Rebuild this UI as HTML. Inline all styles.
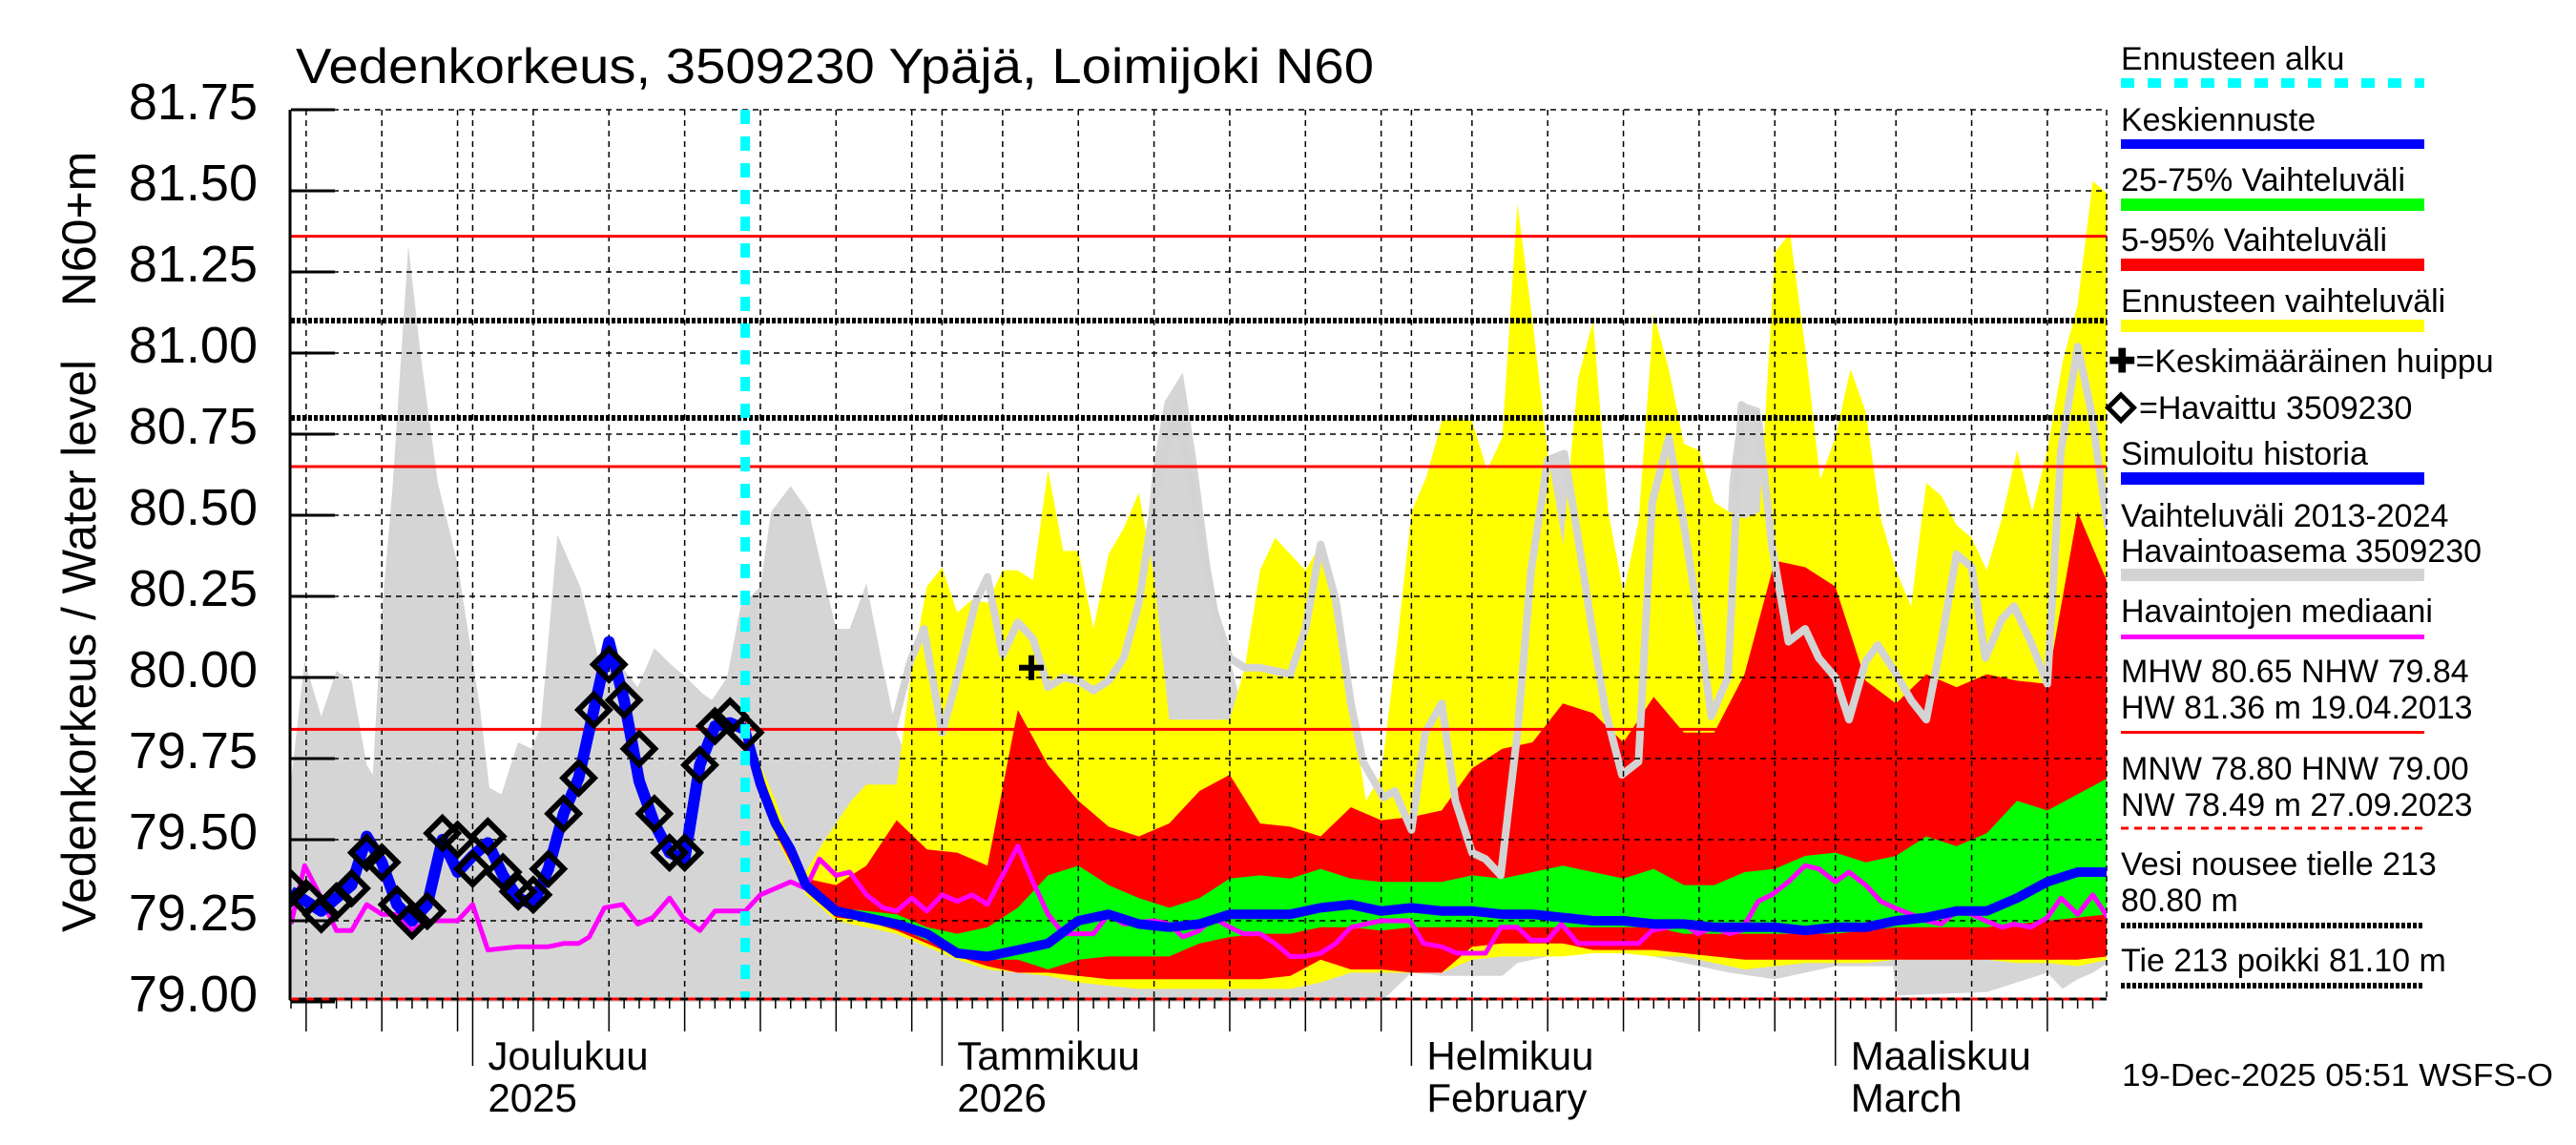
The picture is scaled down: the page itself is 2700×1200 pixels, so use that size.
<!DOCTYPE html>
<html><head><meta charset="utf-8"><style>
html,body{margin:0;padding:0;background:#fff;}
svg{display:block;font-family:"Liberation Sans",Arial,sans-serif;}
</style></head><body>
<svg id="chart" width="2700" height="1200" viewBox="0 0 2700 1200" xmlns="http://www.w3.org/2000/svg">
<rect x="0" y="0" width="2700" height="1200" fill="#fff"/>
<g id="layer-bands"></g>
<g id="layer-grid"></g>
<g id="layer-lines"></g>
<g id="layer-axes"></g>
<text x="310" y="87" font-size="52" textLength="1130" lengthAdjust="spacingAndGlyphs">Vedenkorkeus, 3509230 Ypäjä, Loimijoki N60</text>
<text transform="translate(100,240) rotate(-90)" font-size="50" text-anchor="middle">N60+m</text>
<text transform="translate(100,677) rotate(-90)" font-size="50" text-anchor="middle" textLength="600" lengthAdjust="spacingAndGlyphs">Vedenkorkeus / Water level</text>
<g id="legend" font-size="34" style="white-space:pre">
<text x="2223" y="73">Ennusteen alku</text>
<line x1="2223" y1="87" x2="2541" y2="87" stroke="#00ffff" stroke-width="10" stroke-dasharray="14,14"/>
<text x="2223" y="137">Keskiennuste</text>
<rect x="2223" y="146" width="318" height="10" fill="#0000ff"/>
<text x="2223" y="200">25-75% Vaihteluväli</text>
<rect x="2223" y="208" width="318" height="13" fill="#00ff00"/>
<text x="2223" y="263">5-95% Vaihteluväli</text>
<rect x="2223" y="271" width="318" height="13" fill="#ff0000"/>
<text x="2223" y="327">Ennusteen vaihteluväli</text>
<rect x="2223" y="335" width="318" height="13" fill="#ffff00"/>
<text x="2210" y="390"><tspan font-weight="bold">✚</tspan>=Keskimääräinen huippu</text>
<rect x="2213" y="418" width="19" height="19" fill="none" stroke="#000" stroke-width="5" transform="rotate(45 2223 428)"/>
<text x="2242" y="439">=Havaittu 3509230</text>
<text x="2223" y="487">Simuloitu historia</text>
<rect x="2223" y="495" width="318" height="13" fill="#0000ff"/>
<text x="2223" y="552">Vaihteluväli 2013-2024</text>
<text x="2223" y="589">Havaintoasema 3509230</text>
<rect x="2223" y="596" width="318" height="13" fill="#d3d3d3"/>
<text x="2223" y="652">Havaintojen mediaani</text>
<rect x="2223" y="665" width="318" height="5" fill="#ff00ff"/>
<text x="2223" y="715">MHW  80.65 NHW  79.84</text>
<text x="2223" y="753">HW  81.36 m 19.04.2013</text>
<rect x="2223" y="766" width="318" height="3" fill="#ff0000"/>
<text x="2223" y="817">MNW  78.80 HNW  79.00</text>
<text x="2223" y="855">NW  78.49 m 27.09.2023</text>
<line x1="2223" y1="868" x2="2541" y2="868" stroke="#ff0000" stroke-width="3" stroke-dasharray="8,6"/>
<text x="2223" y="917">Vesi nousee tielle 213</text>
<text x="2223" y="955">80.80 m</text>
<line x1="2223" y1="970" x2="2541" y2="970" stroke="#000" stroke-width="6" stroke-dasharray="4,2"/>
<text x="2223" y="1018">Tie 213 poikki 81.10 m</text>
<line x1="2223" y1="1033" x2="2541" y2="1033" stroke="#000" stroke-width="6" stroke-dasharray="4,2"/>
</g>
<text x="2224" y="1138" font-size="33" textLength="452" lengthAdjust="spacingAndGlyphs">19-Dec-2025 05:51 WSFS-O</text>
</svg>
<script>
// ---- data (day 0 = 19 Nov 2025) ----
const obsValues = [79.35,79.32,79.27,79.31,79.35,79.46,79.43,79.30,79.25,79.28,79.52,79.50,79.41,79.51,79.40,79.34,79.33,79.41,79.58,79.69,79.90,80.04,79.93,79.78,79.58,79.46,79.46,79.73,79.85,79.88,79.83];
const simValues = [79.34,79.31,79.28,79.32,79.36,79.51,79.43,79.30,79.25,79.30,79.50,79.40,79.45,79.49,79.39,79.32,79.30,79.41,79.58,79.69,79.90,80.11,79.93,79.68,79.55,79.46,79.44,79.73,79.85,79.86,79.84];
const bandDays = [30,31,32,33,34,36,38,40,42,44,46,48,50,52,54,56,58,60,62,64,66,68,70,72,74,76,78,80,82,84,86,88,90,92,94,96,98,100,102,104,106,108,110,112,114,116,118,120];
const medianValues = [79.84,79.67,79.55,79.47,79.36,79.28,79.26,79.24,79.21,79.15,79.14,79.16,79.18,79.25,79.27,79.24,79.23,79.24,79.27,79.27,79.27,79.29,79.30,79.28,79.29,79.28,79.28,79.27,79.27,79.26,79.25,79.25,79.24,79.24,79.23,79.23,79.23,79.22,79.23,79.23,79.25,79.26,79.28,79.28,79.32,79.37,79.40,79.40];
const p75Values = [79.85,79.68,79.56,79.48,79.37,79.29,79.28,79.27,79.23,79.21,79.23,79.29,79.39,79.42,79.36,79.32,79.29,79.32,79.38,79.39,79.38,79.41,79.38,79.37,79.37,79.37,79.39,79.38,79.40,79.42,79.40,79.38,79.41,79.36,79.36,79.40,79.41,79.45,79.46,79.43,79.45,79.51,79.48,79.52,79.62,79.59,79.64,79.69];
const p25Values = [79.83,79.66,79.54,79.46,79.35,79.27,79.25,79.23,79.19,79.15,79.13,79.13,79.10,79.13,79.14,79.14,79.14,79.18,79.20,79.21,79.21,79.23,79.23,79.22,79.23,79.23,79.23,79.23,79.23,79.23,79.23,79.23,79.23,79.21,79.21,79.21,79.21,79.21,79.21,79.22,79.23,79.23,79.23,79.23,79.24,79.25,79.26,79.27];
const p95Values = [79.87,79.72,79.58,79.45,79.38,79.36,79.42,79.56,79.47,79.46,79.42,79.90,79.73,79.62,79.54,79.51,79.55,79.65,79.70,79.55,79.54,79.51,79.60,79.56,79.57,79.59,79.72,79.78,79.80,79.92,79.89,79.80,79.94,79.83,79.83,80.01,80.36,80.34,80.28,79.99,79.92,80.01,79.97,80.01,79.99,79.98,80.51,80.29];
const p5Values = [79.82,79.64,79.52,79.43,79.34,79.26,79.25,79.22,79.18,79.14,79.11,79.09,79.09,79.08,79.07,79.07,79.07,79.07,79.07,79.07,79.08,79.13,79.10,79.10,79.09,79.09,79.17,79.18,79.18,79.18,79.16,79.16,79.16,79.15,79.14,79.13,79.13,79.13,79.13,79.13,79.13,79.13,79.13,79.13,79.13,79.13,79.13,79.14];
const minValues = [79.81,79.63,79.51,79.42,79.33,79.25,79.23,79.21,79.17,79.13,79.10,79.09,79.08,79.06,79.05,79.04,79.04,79.04,79.04,79.04,79.04,79.06,79.09,79.09,79.09,79.09,79.13,79.14,79.14,79.14,79.15,79.15,79.14,79.14,79.12,79.10,79.11,79.12,79.12,79.12,79.13,79.13,79.13,79.13,79.12,79.12,79.11,79.13];
const maxDays = [30,31,32,33,34,35,36,37,38,39,40,41,42,43,44,45,46,47,48,49,50,51,52,53,54,55,56,57,58,59,60,61,62,63,64,65,66,67,68,69,70,71,72,73,74,75,76,77,78,79,80,81,82,83,84,85,86,87,88,89,90,91,92,93,94,95,96,97,98,99,100,101,102,103,104,105,106,107,108,109,110,111,112,113,114,115,116,117,118,119,120];
const maxValues = [79.88,79.73,79.62,79.49,79.40,79.48,79.55,79.62,79.67,79.67,79.67,80.03,80.28,80.34,80.20,80.24,80.23,80.33,80.33,80.30,80.64,80.39,80.39,80.15,80.38,80.46,80.57,80.31,79.87,79.87,79.87,79.87,79.87,80.03,80.33,80.43,80.38,80.33,80.41,80.24,79.92,79.62,79.70,80.08,80.51,80.62,80.79,80.80,80.79,80.64,80.74,81.46,81.10,80.69,80.41,80.92,81.10,80.51,80.26,80.48,81.12,80.95,80.72,80.70,80.54,80.51,80.49,80.51,81.31,81.37,81.02,80.61,80.74,80.95,80.82,80.49,80.33,80.22,80.60,80.56,80.47,80.43,80.33,80.49,80.70,80.51,80.70,80.97,81.15,81.53,81.49];
const histTopDays = [0,0.9,2,3,4,5,5.4,6,6.7,7.75,8.6,9.7,11,12.5,13.1,13.9,15,15.9,16.5,17.6,19.1,20.3,21.9,22.9,24,25.1,26.1,27.2,27.8,28.8,29.7,31,31.7,33,34.2,36,36.9,38,39.1,40,42,55,56.9,57.7,58.9,59.8,61,62,63,66,80,82,84,86,88,94,95,95.7,97,98,100,120];
const histTopValues = [79.68,80.05,79.88,80.02,79.99,79.73,79.70,80.20,80.58,81.33,80.98,80.60,80.35,79.90,79.66,79.64,79.80,79.78,79.85,80.44,80.28,80.06,80.03,79.97,80.09,80.04,80.00,79.95,79.93,80.00,80.22,80.28,80.51,80.59,80.51,80.15,80.15,80.29,80.03,79.83,79.60,79.60,80.64,80.85,80.94,80.67,80.24,80.06,79.87,79.60,79.60,80.60,80.70,80.30,79.60,79.60,80.60,80.85,80.83,80.50,79.60,79.60];
const histBottomDays = [0,72,74,76,80,81,84,88,93,95,98,102,105.8,106,112,116,117,118,119,120];
const histBottomValues = [79.00,79.00,79.09,79.08,79.08,79.12,79.15,79.16,79.11,79.09,79.07,79.11,79.11,79.02,79.03,79.09,79.04,79.07,79.09,79.12];
const histLineDays = [39.7,40.9,41.8,43,44,45.2,46,47,48,49,50,51,52,53,54,55,56,57,58.5,61,62,63,64,65,66,67,68,69,70,70.8,72.15,72.9,74,74.9,76,76.9,78,78.9,79.9,81,81.9,83,84.1,85,85.9,86.8,87.9,89,89.9,91,92,92.9,93.8,94.9,95.8,96.9,97.8,98.9,100,100.9,102,102.9,104,104.8,105.9,107,108,109,110,111,111.9,113,113.8,114.9,116,116.9,118,118.9,120];
const histLineValues = [79.83,80.05,80.15,79.83,80.00,80.23,80.31,80.07,80.17,80.12,79.97,80.00,79.99,79.96,79.99,80.06,80.23,80.54,80.85,80.20,80.06,80.03,80.03,80.02,80.01,80.15,80.41,80.24,79.92,79.74,79.63,79.65,79.53,79.83,79.92,79.62,79.46,79.44,79.39,79.83,80.33,80.67,80.69,80.43,80.16,79.90,79.70,79.74,80.54,80.74,80.47,80.20,79.88,80.00,80.84,80.80,80.41,80.11,80.15,80.06,80.00,79.87,80.05,80.10,80.02,79.93,79.87,80.11,80.38,80.34,80.06,80.18,80.22,80.11,79.98,80.70,81.02,80.82,80.46];
const medObsDays = [0,0.9,2,3,4,5,6,7,8,9,10,11,12,13,15,17,18,19,19.7,20.7,21.9,22.9,23.9,25,25.9,27,28,29,30,31,33,34,34.9,36,36.9,38,39.1,40,41,42,43,44,45,46,47,48,49,50,51,53,54,55,57,58,58.9,60,60.9,62,62.9,64,65,66,66.9,68,69,70,72,73.9,74.8,76,77,78.9,79.9,81,81.9,83,83.9,85,89,89.9,91,92,92.9,94,95,95.8,96.9,97.8,98.9,100,100.9,102,102.9,104,105,105.9,107,108,109,110,111,111.9,113,113.8,114.9,116,116.9,118,119,120];
const medObsValues = [79.24,79.42,79.32,79.22,79.22,79.30,79.27,79.27,79.22,79.25,79.25,79.25,79.30,79.16,79.17,79.17,79.18,79.18,79.20,79.29,79.30,79.24,79.26,79.32,79.26,79.22,79.28,79.28,79.28,79.33,79.37,79.35,79.44,79.39,79.40,79.33,79.29,79.28,79.32,79.28,79.33,79.31,79.33,79.30,79.39,79.48,79.37,79.27,79.21,79.21,79.27,79.24,79.25,79.24,79.20,79.22,79.26,79.23,79.21,79.21,79.18,79.14,79.14,79.15,79.18,79.23,79.25,79.25,79.18,79.17,79.15,79.15,79.23,79.23,79.19,79.19,79.24,79.18,79.18,79.22,79.23,79.24,79.21,79.23,79.21,79.22,79.31,79.33,79.37,79.42,79.41,79.37,79.40,79.36,79.31,79.29,79.27,79.25,79.24,79.28,79.27,79.25,79.23,79.24,79.23,79.26,79.32,79.27,79.33,79.26];
const meanPeakDay = [48.9];
const meanPeakValue = [80.03];
const forecastStartDay = [30];
const yTicks = [79.00,79.25,79.50,79.75,80.00,80.25,80.50,80.75,81.00,81.25,81.50,81.75];
const yTickLabels = ["79.00","79.25","79.50","79.75","80.00","80.25","80.50","80.75","81.00","81.25","81.50","81.75"];
const refRedLevels = [81.36,80.65,79.84];
const refBlackLevels = [81.10,80.80];
const gridDays = [1,6,11,12,16,21,26,31,36,41,43,47,52,57,62,67,72,74,78,83,88,93,98,102,106,111,116];
const monthDays = [12,43,74,102];
const monthLabels = ["Joulukuu","Tammikuu","Helmikuu","Maaliskuu"];
const monthLabels2 = ["2025","2026","February","March"];

// ---- axes ----
const X0=305, PXD=15.87, Y0=115, PXV=340, XR=2208, YB=1047;
function X(d){return X0+d*PXD;}
function Y(v){return Y0+(81.75-v)*PXV;}
const NS='http://www.w3.org/2000/svg';
function mk(tag,attrs,parent){const e=document.createElementNS(NS,tag);for(const k in attrs)e.setAttribute(k,attrs[k]);parent.appendChild(e);return e;}
const bands=document.getElementById('layer-bands'), grid=document.getElementById('layer-grid'), lines=document.getElementById('layer-lines'), axes=document.getElementById('layer-axes');
function pts(days,vals){return days.map((d,i)=>X(d).toFixed(1)+','+Y(vals[i]).toFixed(1));}
function band(tDays,tVals,bDays,bVals,fill,name){
  const p=pts(tDays,tVals).concat(pts(bDays,bVals).reverse());
  const el=mk('polygon',{points:p.join(' '),fill:fill},bands);
  
  
}
function line(days,vals,stroke,w,name,parent){
  const el=mk('polyline',{points:pts(days,vals).join(' '),fill:'none',stroke:stroke,'stroke-width':w,'stroke-linejoin':'round'},parent||lines);
  
  
  return el;
}
const defs=mk('defs',{},document.getElementById('chart'));
const cp=mk('clipPath',{id:'plotclip'},defs);
mk('rect',{x:X0-1,y:Y0,width:XR-X0+1,height:YB-Y0+6},cp);
bands.setAttribute('clip-path','url(#plotclip)');
lines.setAttribute('clip-path','url(#plotclip)');

band(histTopDays,histTopValues,histBottomDays,histBottomValues,'#d5d5d5','history-range-band');
band(maxDays,maxValues,bandDays,minValues,'#ffff00','forecast-range-band');
band(bandDays,p95Values,bandDays,p5Values,'#ff0000','forecast-5-95-band');
band(bandDays,p75Values,bandDays,p25Values,'#00ff00','forecast-25-75-band');
line(histLineDays,histLineValues,'#d3d3d3',8,'history-station-line',bands);

gridDays.forEach(d=>{const el=mk('line',{x1:X(d),y1:Y0,x2:X(d),y2:YB,stroke:'#000','stroke-width':1.5,'stroke-dasharray':'6,5'},grid);

});
{const el=mk('line',{x1:XR,y1:Y0,x2:XR,y2:YB,stroke:'#000','stroke-width':1.5,'stroke-dasharray':'6,5'},grid);

}
yTicks.forEach((v,i)=>{ if(i>0){const el=mk('line',{x1:X0,y1:Y(v),x2:XR,y2:Y(v),stroke:'#000','stroke-width':1.5,'stroke-dasharray':'6,5'},grid);

}});

refRedLevels.forEach(v=>{const el=mk('line',{x1:X0,y1:Y(v),x2:XR,y2:Y(v),stroke:'#ff0000','stroke-width':3},lines);

});
refBlackLevels.forEach(v=>{const el=mk('line',{x1:X0,y1:Y(v),x2:XR,y2:Y(v),stroke:'#000','stroke-width':6,'stroke-dasharray':'4,2'},lines);

});

line(medObsDays,medObsValues,'#ff00ff',5,'observed-median-line');
const simDays=simValues.map((v,i)=>i);
line(simDays,simValues,'#0000ff',12,'simulated-history-line');
line(bandDays,medianValues,'#0000ff',10,'forecast-median-line');
obsValues.forEach((v,i)=>{const cx=X(i),cy=Y(v);
  const el=mk('rect',{x:cx-11.5,y:cy-11.5,width:23,height:23,fill:'none',stroke:'#000','stroke-width':6,transform:'rotate(45 '+cx+' '+cy+')'},lines);
  
  });
meanPeakDay.forEach((d,i)=>{const cx=X(d),cy=Y(meanPeakValue[i]);
  const el=mk('path',{d:`M${cx-13},${cy}H${cx+13}M${cx},${cy-13}V${cy+13}`,stroke:'#000','stroke-width':6},lines);
  
  });
forecastStartDay.forEach(d=>{const el=mk('line',{x1:X(d),y1:Y0,x2:X(d),y2:YB,stroke:'#00ffff','stroke-width':10,'stroke-dasharray':'15,13'},lines);
  
  });

{const el=mk('line',{x1:X0-1,y1:Y0,x2:X0-1,y2:YB+1,stroke:'#000','stroke-width':3},axes);

}
{const el=mk('line',{x1:X0-2,y1:YB,x2:XR,y2:YB,stroke:'#000','stroke-width':3},axes);

}
{const el=mk('line',{x1:X0,y1:YB,x2:XR,y2:YB,stroke:'#ff0000','stroke-width':3,'stroke-dasharray':'8,8'},axes);

}
yTicks.forEach((v,i)=>{
  const t=mk('line',{x1:X0,y1:Y(v),x2:X0+46,y2:Y(v),stroke:'#000','stroke-width':3},axes);
  
  
  const tx=mk('text',{x:270,y:Y(v)+10,'font-size':54,'text-anchor':'end'},axes);
  tx.textContent=yTickLabels[i];
  
  
});
for(let d=0; d<120; d++){
  let len=10;
  if(gridDays.indexOf(d)>=0) len=34;
  if(monthDays.indexOf(d)>=0) len=70;
  const t=mk('line',{x1:X(d),y1:YB,x2:X(d),y2:YB+len,stroke:'#000','stroke-width':1.5},axes);
  
  
}
monthDays.forEach((d,i)=>{
  const a=mk('text',{x:X(d)+16,y:1121,'font-size':42},axes);
  a.textContent=monthLabels[i];
  
  
  const b=mk('text',{x:X(d)+16,y:1165,'font-size':42},axes);
  b.textContent=monthLabels2[i];
  
  
});
</script>
</body></html>
